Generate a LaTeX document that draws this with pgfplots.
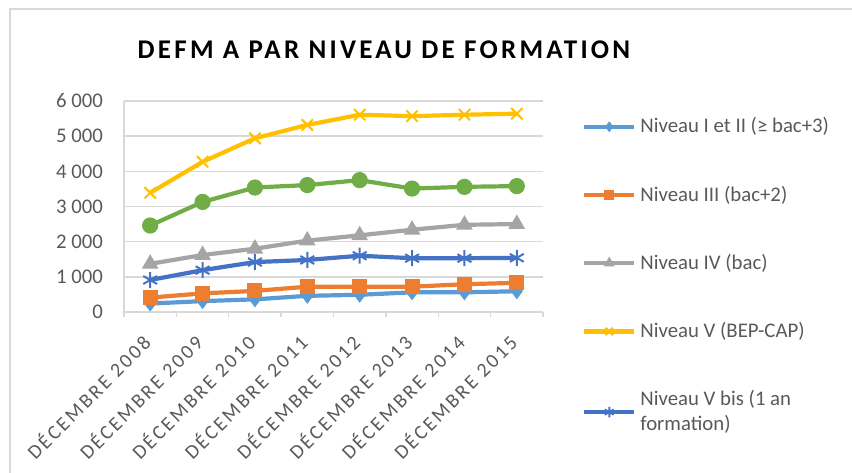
\documentclass[border=0pt]{standalone}
\usepackage{pgfplots}
\pgfplotsset{compat=1.18}
\usepackage{fontspec}
\setmainfont{Carlito}
\newfontfamily\titlefont[LetterSpace=12]{Carlito}
\newfontfamily\catfont[LetterSpace=13]{Carlito}
\definecolor{cI}{HTML}{5B9BD5}
\definecolor{cIII}{HTML}{ED7D31}
\definecolor{cIV}{HTML}{A5A5A5}
\definecolor{cV}{HTML}{FFC000}
\definecolor{cVbis}{HTML}{4472C4}
\definecolor{cVI}{HTML}{70AD47}
\definecolor{gridc}{HTML}{D9D9D9}
\definecolor{tickc}{HTML}{595959}
\begin{document}
\begin{tikzpicture}
\useasboundingbox (0,0) rectangle (426pt,-236pt);
\draw[line width=1pt, gridc] (5pt,-240pt) -- (5pt,-4.5pt) -- (430pt,-4.5pt);
\node[font=\titlefont\bfseries\fontsize{13.5}{15}\selectfont, text=black] at (192pt,-25pt) {DEFM A PAR NIVEAU DE FORMATION};
\begin{axis}[
  at={(62pt,-156pt)}, anchor=south west,
  scale only axis, width=209.5pt, height=105.5pt,
  xmin=-0.5, xmax=7.5, ymin=0, ymax=6000,
  axis lines*=left,
  axis line style={-, gridc, line width=0.7pt},
  xtick={0,...,7},
  xticklabels={DÉCEMBRE 2008,DÉCEMBRE 2009,DÉCEMBRE 2010,DÉCEMBRE 2011,DÉCEMBRE 2012,DÉCEMBRE 2013,DÉCEMBRE 2014,DÉCEMBRE 2015},
  xticklabel style={yshift=-10pt, xshift=-5pt, rotate=45, anchor=north east, inner sep=0pt, font=\catfont\fontsize{10}{12}\selectfont, text=tickc},
  minor xtick={-0.5,0.5,...,7.5},
  tick align=outside,
  major tick length=0pt,
  minor tick length=2.5pt,
  minor x tick style={gridc, line width=0.7pt},
  major tick style={draw=none},
  ytick={0,1000,...,6000},
  yticklabels={0,1 000,2 000,3 000,4 000,5 000,6 000},
  yticklabel style={font=\fontsize{10.4}{12}\selectfont, text=tickc, xshift=-7pt},
  ymajorgrids,
  major grid style={gridc, line width=0.7pt},
  legend cell align=left,
  legend style={at={(1.0925,0.942)}, anchor=north west, draw=none, fill=none,
    font=\fontsize{10.4}{12.5}\selectfont, text=tickc, row sep=21pt, inner sep=0pt,
    nodes={align=left}},
  legend image code/.code={\draw[mark repeat=2,mark phase=2,#1] plot coordinates {(0pt,0pt) (12.5pt,0pt) (25pt,0pt)};},
  legend image post style={/tikz/every mark/.append style={scale=0.65}},
  every axis plot/.append style={line width=2.1pt},
]
\addplot[cI, mark=diamond*, mark size=3.6pt, mark options={solid, fill=cI, draw=cI, line width=0.5pt}]
  coordinates {(0,240) (1,310) (2,360) (3,460) (4,490) (5,560) (6,560) (7,590)};
\addlegendentry{Niveau I et II (≥ bac+3)}
\addplot[cIII, mark=square*, mark size=3.5pt, mark options={solid, fill=cIII, draw=cIII, line width=0.5pt}]
  coordinates {(0,410) (1,530) (2,600) (3,720) (4,720) (5,720) (6,790) (7,830)};
\addlegendentry{Niveau III (bac+2)}
\addplot[cIV, mark=triangle*, mark size=4.3pt, mark options={solid, fill=cIV, draw=cIV, line width=0.5pt}]
  coordinates {(0,1370) (1,1620) (2,1800) (3,2030) (4,2180) (5,2340) (6,2480) (7,2500)};
\addlegendentry{Niveau IV (bac)}
\addplot[cV, mark=x, mark size=4pt, mark options={solid, draw=cV, line width=1pt}]
  coordinates {(0,3390) (1,4270) (2,4940) (3,5320) (4,5610) (5,5570) (6,5610) (7,5640)};
\addlegendentry{Niveau V (BEP-CAP)}
\addplot[cVbis, mark=asterisk, mark size=4pt, mark options={solid, draw=cVbis, line width=1pt}]
  coordinates {(0,910) (1,1190) (2,1420) (3,1480) (4,1600) (5,1530) (6,1530) (7,1540)};
\addlegendentry{Niveau V bis (1 an\\formation)}
\addplot[cVI, mark=*, mark size=3.8pt, mark options={solid, fill=cVI, draw=cVI, line width=0.5pt}, forget plot]
  coordinates {(0,2460) (1,3130) (2,3540) (3,3610) (4,3750) (5,3510) (6,3560) (7,3580)};
\end{axis}
\end{tikzpicture}
\end{document}
